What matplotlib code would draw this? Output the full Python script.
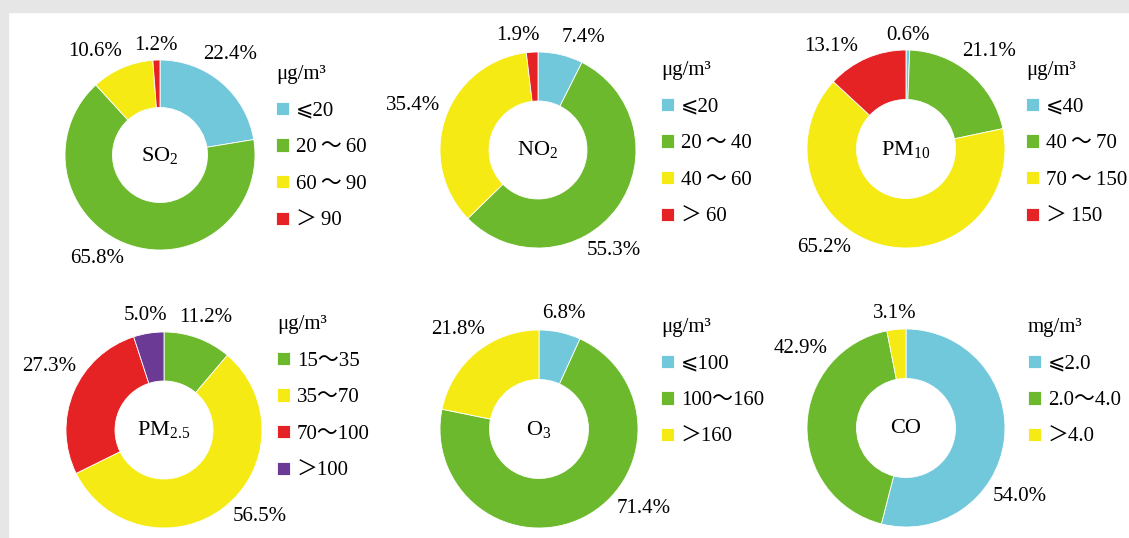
import numpy as np
import matplotlib
matplotlib.use("Agg")
import matplotlib.pyplot as plt
from matplotlib.patches import Rectangle

plt.rcParams['font.family'] = ['Liberation Serif', 'DejaVu Sans', 'Noto Sans CJK SC']
plt.rcParams['mathtext.fontset'] = 'custom'
plt.rcParams['mathtext.rm'] = 'Liberation Serif'
plt.rcParams['mathtext.it'] = 'Liberation Serif:italic'

# data
names = [r'SO$_2$', r'NO$_2$', r'PM$_{10}$', r'PM$_{2.5}$', r'O$_3$', 'CO']
units = ['μg/m³', 'μg/m³', 'μg/m³', 'μg/m³', 'μg/m³', 'mg/m³']

so2_shares = [22.4, 65.8, 10.6, 1.2]
no2_shares = [7.4, 55.3, 35.4, 1.9]
pm10_shares = [0.6, 21.1, 65.2, 13.1]
pm25_shares = [11.2, 56.5, 27.3, 5.0]
o3_shares = [6.8, 71.4, 21.8]
co_shares = [54.0, 42.9, 3.1]

ts = '\u2009'
so2_bins = ['⩽20', f'20{ts}～{ts}60', f'60{ts}～{ts}90', f'＞{ts}90']
no2_bins = ['⩽20', f'20{ts}～{ts}40', f'40{ts}～{ts}60', f'＞{ts}60']
pm10_bins = ['⩽40', f'40{ts}～{ts}70', f'70{ts}～{ts}150', f'＞{ts}150']
pm25_bins = ['15～35', '35～70', '70～100', '＞100']
o3_bins = ['⩽100', '100～160', '＞160']
co_bins = ['⩽2.0', '2.0～4.0', '＞4.0']

shares = [so2_shares, no2_shares, pm10_shares, pm25_shares, o3_shares, co_shares]
bins = [so2_bins, no2_bins, pm10_bins, pm25_bins, o3_bins, co_bins]

# styles
cyan, green, yellow, red, purple = '#72c8db', '#6cb92e', '#f5ea14', '#e52224', '#6b3a94'
colors = [
    [cyan, green, yellow, red],
    [cyan, green, yellow, red],
    [cyan, green, yellow, red],
    [green, yellow, red, purple],
    [cyan, green, yellow],
    [cyan, green, yellow],
]
FS = 15

# layout (pixels)
W, H = 1129, 538
centers = [(160, 155), (538, 150), (906, 149), (164, 430), (539, 429), (906, 428)]
radii = [95, 98, 99, 98, 99, 99]
legend_pos = [(276, 65), (661, 61), (1026, 61), (277, 315), (661, 318), (1028, 318)]
# label angle overrides, degrees clockwise from 12 o'clock
label_angle = {(0, 1): 211, (1, 1): 143, (1, 0): 22, (1, 3): 350, (2, 2): 220,
               (2, 3): 324, (3, 2): 299, (3, 1): 132, (4, 1): 127, (5, 0): 121,
               (5, 1): 307, (0, 0): 35, (0, 2): 328}

fig = plt.figure(figsize=(W / 100, H / 100), dpi=100)
fig.patches.append(Rectangle((0, 1 - 12 / H), 1, 12 / H, transform=fig.transFigure,
                             color='#e6e6e6', zorder=-1))
fig.patches.append(Rectangle((0, 0), 8 / W, 1, transform=fig.transFigure,
                             color='#e6e6e6', zorder=-1))

half = 135
for i in range(6):
    cx, cy = centers[i]
    r = radii[i]
    ax = fig.add_axes([(cx - half) / W, 1 - (cy + half) / H, 2 * half / W, 2 * half / H])
    wedges, _ = ax.pie(shares[i], colors=colors[i], startangle=90, counterclock=False,
                       radius=1.0,
                       wedgeprops=dict(width=0.5, edgecolor='white', linewidth=0.6))
    lim = half / r
    ax.set_xlim(-lim, lim)
    ax.set_ylim(-lim, lim)
    ax.axis('off')
    ax.text(0, 0, names[i], ha='center', va='center', fontsize=FS + 1)

    for j, w in enumerate(wedges):
        mid = (w.theta1 + w.theta2) / 2
        if (i, j) in label_angle:
            mid = 90 - label_angle[(i, j)]
        a = np.deg2rad(mid)
        d = (r + 10 + 25 * abs(np.cos(a)) + 4 * abs(np.sin(a))) / r
        ax.text(d * np.cos(a), d * np.sin(a), f'{shares[i][j]:.1f}%',
                ha='center', va='center', fontsize=FS)

    lx, ly = legend_pos[i]
    leg = fig.legend(wedges, bins[i], title=units[i], loc='upper left',
                     bbox_to_anchor=(lx / W, 1 - ly / H), frameon=False,
                     fontsize=FS, title_fontsize=FS, alignment='left',
                     handlelength=0.6, handleheight=0.6, handletextpad=0.35,
                     labelspacing=0.85, borderpad=0, borderaxespad=0)

fig.savefig('out.png', dpi=100, facecolor='white')
